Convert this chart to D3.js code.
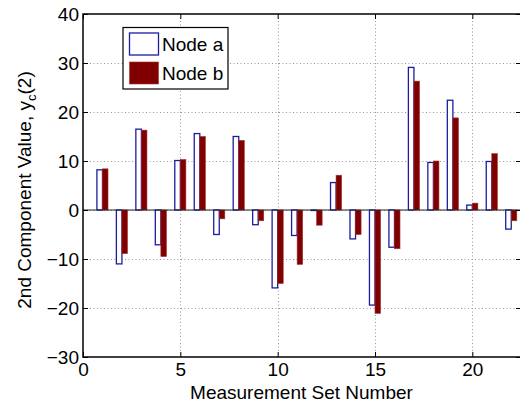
<!DOCTYPE html>
<html>
<head>
<meta charset="utf-8">
<script src="https://cdn.jsdelivr.net/npm/d3@7"></script>
<style>
  body { margin: 0; background: #fff; }
  svg { display: block; font-family: "Liberation Sans", Arial, Helvetica, sans-serif; }
</style>
</head>
<body>
<div id="chart"></div>
<script>
// measurement sets 1..22
let sets = d3.range(1, 23);
let nodeA = [8.2, -11.0, 16.5, -7.1, 10.1, 15.6, -5.0, 15.0, -3.0, -15.9, -5.2,
             -0.1, 5.6, -5.9, -19.4, -7.6, 29.1, 9.7, 22.4, 1.0, 9.9, -3.9];
let nodeB = [8.4, -8.9, 16.3, -9.5, 10.3, 15.0, -1.8, 14.2, -2.2, -15.0, -11.1,
             -3.1, 7.1, -5.0, -21.1, -7.9, 26.3, 10.0, 18.8, 1.4, 11.5, -2.2];
let xTicks = [0, 5, 10, 15, 20];
let yTicks = [-30, -20, -10, 0, 10, 20, 30, 40];
let seriesNames = ["Node a", "Node b"];

let W = 520, H = 403;
let pLeft = 83, pRight = 521, pTop = 14, pBottom = 357;

let x = d3.scaleLinear().domain([0, 22.5]).range([pLeft, pRight]);
let y = d3.scaleLinear().domain([-30, 40]).range([pBottom, pTop]);
let bw = 0.285;

let svg = d3.select("#chart").append("svg")
  .attr("width", W).attr("height", H);

svg.append("rect").attr("width", W).attr("height", H).attr("fill", "#fff");

// grid
let grid = svg.append("g").attr("stroke", "#999").attr("stroke-width", 1)
  .attr("stroke-dasharray", "1,2.5");
grid.selectAll(".gx").data(xTicks.filter(d => d > 0)).enter().append("line")
  .attr("x1", d => Math.round(x(d)) + 0.5).attr("x2", d => Math.round(x(d)) + 0.5)
  .attr("y1", pTop).attr("y2", pBottom);
grid.selectAll(".gy").data(yTicks.filter(d => d > -30 && d < 40)).enter().append("line")
  .attr("y1", d => Math.round(y(d)) + 0.5).attr("y2", d => Math.round(y(d)) + 0.5)
  .attr("x1", pLeft).attr("x2", pRight);

// bars
let bars = svg.append("g");
bars.selectAll(".a").data(sets).enter().append("rect")
  .attr("x", (d) => x(d - bw))
  .attr("width", x(bw) - x(0))
  .attr("y", (d, i) => y(Math.max(0, nodeA[i])))
  .attr("height", (d, i) => Math.abs(y(nodeA[i]) - y(0)))
  .attr("fill", "#fff").attr("stroke", "#1c1ca0").attr("stroke-width", 1.3);
bars.selectAll(".b").data(sets).enter().append("rect")
  .attr("x", (d) => x(d))
  .attr("width", x(bw) - x(0))
  .attr("y", (d, i) => y(Math.max(0, nodeB[i])))
  .attr("height", (d, i) => Math.abs(y(nodeB[i]) - y(0)))
  .attr("fill", "#800000").attr("stroke", "#a03030").attr("stroke-width", 0.6);

// zero baseline
svg.append("line")
  .attr("x1", pLeft).attr("x2", pRight)
  .attr("y1", y(0)).attr("y2", y(0))
  .attr("stroke", "#222").attr("stroke-width", 1);

// axes
let xAxis = svg.append("g").attr("transform", "translate(0," + pBottom + ")")
  .call(d3.axisBottom(x).tickValues(xTicks).tickSizeInner(-5).tickSizeOuter(0).tickPadding(6));
let yAxis = svg.append("g").attr("transform", "translate(" + pLeft + ",0)")
  .call(d3.axisLeft(y).tickValues(yTicks).tickSizeInner(-5).tickSizeOuter(0).tickPadding(4));
let xTop = svg.append("g").attr("transform", "translate(0," + pTop + ")")
  .call(d3.axisTop(x).tickValues(xTicks).tickSizeInner(-5).tickSizeOuter(0).tickFormat(""));
let yRight = svg.append("g").attr("transform", "translate(" + pRight + ",0)")
  .call(d3.axisRight(y).tickValues(yTicks).tickSizeInner(-5).tickSizeOuter(0).tickFormat(""));

[xAxis, yAxis, xTop, yRight].forEach(g => {
  g.select(".domain").remove();
  g.selectAll(".tick line").attr("stroke", "#000").attr("stroke-width", 1);
  g.selectAll(".tick text").attr("fill", "#000")
    .style("font-size", "19px").style("font-family", "Liberation Sans, Arial, sans-serif");
});

// frame
svg.append("rect")
  .attr("x", pLeft).attr("y", pTop)
  .attr("width", pRight - pLeft).attr("height", pBottom - pTop)
  .attr("fill", "none").attr("stroke", "#000").attr("stroke-width", 1.5);

// axis labels
svg.append("text")
  .attr("x", (pLeft + 520) / 2).attr("y", 399)
  .attr("text-anchor", "middle").style("font-size", "19px")
  .text("Measurement Set Number");

let yl = svg.append("text")
  .attr("transform", "translate(31,190) rotate(-90)")
  .attr("text-anchor", "middle").style("font-size", "19px");
yl.append("tspan").text("2nd Component Value, y");
yl.append("tspan").attr("dy", 5).style("font-size", "13px").text("c");
yl.append("tspan").attr("dy", -5).text("(2)");

// legend
let lg = svg.append("g");
lg.append("rect").attr("x", 123).attr("y", 27.5).attr("width", 105).attr("height", 61.5)
  .attr("fill", "#fff").attr("stroke", "#000").attr("stroke-width", 1.2);
let swFill = ["#fff", "#800000"], swStroke = ["#1c1ca0", "#a03030"];
seriesNames.forEach((name, i) => {
  lg.append("rect").attr("x", 129.5).attr("y", 33 + i * 29).attr("width", 29).attr("height", 22)
    .attr("fill", swFill[i]).attr("stroke", swStroke[i]).attr("stroke-width", i ? 0.6 : 1.3);
  lg.append("text").attr("x", 162).attr("y", 51 + i * 29)
    .style("font-size", "19px").text(name);
});
</script>
</body>
</html>
